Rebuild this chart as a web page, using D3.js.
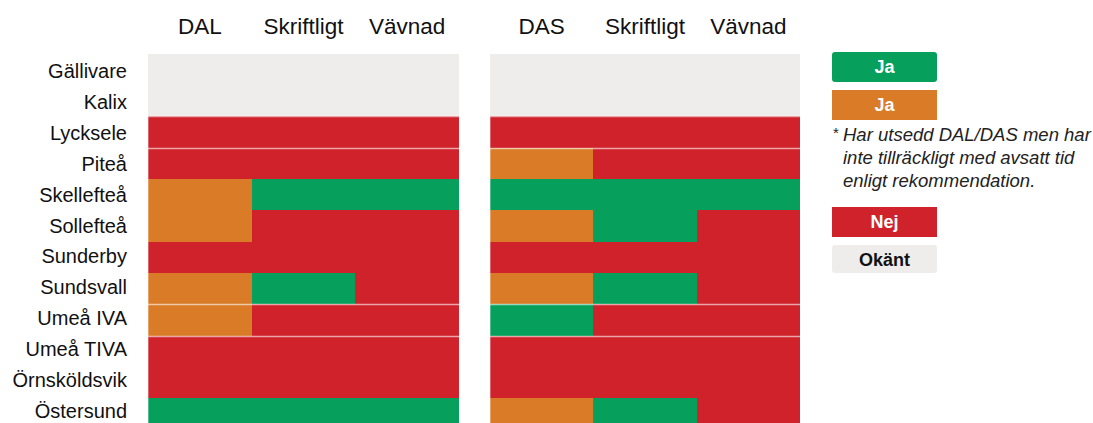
<!DOCTYPE html>
<html>
<head>
<meta charset="utf-8">
<script src="https://cdn.jsdelivr.net/npm/d3@7"></script>
<style>
  body { margin: 0; background: #fff; }
  text { font-family: "Liberation Sans", Arial, sans-serif; }
</style>
</head>
<body>
<div class="main"></div>
<script>
// Data: sjukhus och status per kolumn (G = Ja, O = Ja*, R = Nej, U = Okänt)
var sites = ["Gällivare", "Kalix", "Lycksele", "Piteå", "Skellefteå", "Sollefteå",
             "Sunderby", "Sundsvall", "Umeå IVA", "Umeå TIVA", "Örnsköldsvik", "Östersund"];
var dalCols = ["DAL", "Skriftligt", "Vävnad"];
var dasCols = ["DAS", "Skriftligt", "Vävnad"];
var dalStatus = [
  ["U","U","U"], ["U","U","U"], ["R","R","R"], ["R","R","R"],
  ["O","G","G"], ["O","R","R"], ["R","R","R"], ["O","G","R"],
  ["O","R","R"], ["R","R","R"], ["R","R","R"], ["G","G","G"]
];
var dasStatus = [
  ["U","U","U"], ["U","U","U"], ["R","R","R"], ["O","R","R"],
  ["G","G","G"], ["O","G","R"], ["R","R","R"], ["O","G","R"],
  ["G","R","R"], ["R","R","R"], ["R","R","R"], ["O","G","R"]
];
var legendKeys   = ["G", "O", "R", "U"];
var legendLabels = ["Ja", "Ja", "Nej", "Okänt"];
var noteLines = ["Har utsedd DAL/DAS men har", "inte tillräckligt med avsatt tid", "enligt rekommendation."];
// rader som har en ljus skiljelinje ovanför
var sepRows = ["Lycksele", "Piteå", "Umeå IVA", "Umeå TIVA"];

var colors = { G: "#06a05c", O: "#da7b27", R: "#cf222b", U: "#eeedec" };

var width = 1093, height = 423;

var svg = d3.select('.main').append('svg')
    .attr('width', width)
    .attr('height', height);

// Skalor
var y = d3.scaleBand().domain(sites).range([53.5, 53.5 + 31.35 * sites.length]);
var yLabel = d3.scalePoint().domain(sites).range([78, 418]);
var panels = [
  { cols: dalCols, data: dalStatus, x: d3.scaleBand().domain(d3.range(3)).range([148, 459]) },
  { cols: dasCols, data: dasStatus, x: d3.scaleBand().domain(d3.range(3)).range([490, 800]) }
];

panels.forEach(function(p) {
  var g = svg.append('g');
  var cells = [];
  p.data.forEach(function(row, i) {
    row.forEach(function(v, j) { cells.push({ site: sites[i], col: j, v: v }); });
  });

  g.selectAll('rect.cell').data(cells).enter().append('rect')
      .attr('class', 'cell')
      .attr('x', d => Math.round(p.x(d.col)))
      .attr('y', d => Math.round(y(d.site)))
      .attr('width', d => Math.round(p.x(d.col) + p.x.bandwidth()) - Math.round(p.x(d.col)) + (d.col < 2 ? 1 : 0))
      .attr('height', d => Math.round(y(d.site) + y.bandwidth()) - Math.round(y(d.site)) + 1)
      .attr('shape-rendering', 'crispEdges')
      .attr('fill', d => colors[d.v]);

  // ljusa skiljelinjer
  g.selectAll('line.sep').data(sepRows).enter().append('line')
      .attr('x1', p.x.range()[0])
      .attr('x2', p.x.range()[1])
      .attr('y1', d => Math.round(y(d)) + 0.5)
      .attr('y2', d => Math.round(y(d)) + 0.5)
      .attr('stroke', 'rgba(255,255,255,0.6)')
      .attr('stroke-width', 1.5);

  // kanter
  g.selectAll('line.edge').data(p.x.range()).enter().append('line')
      .attr('x1', d => d + 0.5).attr('x2', d => d + 0.5)
      .attr('y1', y("Lycksele")).attr('y2', height)
      .attr('stroke', 'rgba(255,255,255,0.3)')
      .attr('stroke-width', 1);

  // kolumnrubriker
  g.selectAll('text.head').data(p.cols).enter().append('text')
      .attr('x', (d, i) => p.x(i) + p.x.bandwidth() / 2)
      .attr('y', 34)
      .attr('text-anchor', 'middle')
      .attr('font-size', 22.5)
      .attr('fill', '#111')
      .text(d => d);
});

// radetiketter
svg.selectAll('text.site').data(sites).enter().append('text')
    .attr('x', 127)
    .attr('y', d => yLabel(d))
    .attr('text-anchor', 'end')
    .attr('font-size', 20)
    .attr('fill', '#111')
    .text(d => d);

// Legend
var lx = 832, lw = 105, lh = 30;
var legendY = [52, 90, 207, 245];
var lg = svg.append('g');
lg.selectAll('rect').data(legendKeys).enter().append('rect')
    .attr('x', lx)
    .attr('y', (d, i) => legendY[i])
    .attr('width', lw)
    .attr('height', (d, i) => i == 3 ? 28 : lh)
    .attr('rx', (d, i) => (i == 0 || i == 3) ? 3 : 0)
    .attr('fill', d => colors[d]);
lg.selectAll('text.lab').data(legendLabels).enter().append('text')
    .attr('x', lx + lw / 2)
    .attr('y', (d, i) => legendY[i] + 21)
    .attr('text-anchor', 'middle')
    .attr('font-size', 18)
    .attr('font-weight', 'bold')
    .attr('fill', (d, i) => i == 3 ? '#111' : '#fff')
    .text(d => d);

lg.append('text')
    .attr('x', 833).attr('y', 138)
    .attr('font-size', 15)
    .attr('fill', '#222')
    .text('*');
lg.selectAll('text.note').data(noteLines).enter().append('text')
    .attr('x', 843)
    .attr('y', (d, i) => 141 + i * 23)
    .attr('font-size', 18.5)
    .attr('font-style', 'italic')
    .attr('fill', '#222')
    .text(d => d);
</script>
</body>
</html>
